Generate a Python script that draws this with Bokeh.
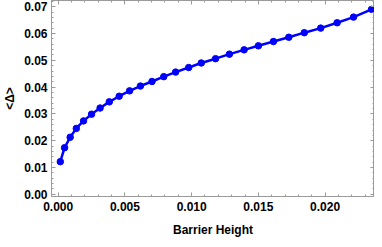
from bokeh.plotting import figure
from bokeh.models import LinearAxis, SingleIntervalTicker, NumeralTickFormatter, Range1d
from bokeh.embed import file_html
from bokeh.resources import INLINE

barrier_height = [0.00016, 0.00048, 0.00090, 0.00136, 0.00190, 0.00250, 0.00314, 0.00383,
                  0.00457, 0.00535, 0.00616, 0.00703, 0.00791, 0.00880, 0.00978, 0.01072,
                  0.01179, 0.01283, 0.01393, 0.01500, 0.01613, 0.01728, 0.01844, 0.01967,
                  0.02090, 0.02213, 0.02348]
mean_delta = [0.0122, 0.0174, 0.0213, 0.0246, 0.0274, 0.0299, 0.0322, 0.0345,
              0.0366, 0.0386, 0.0404, 0.0421, 0.0439, 0.0456, 0.0473, 0.0490,
              0.0506, 0.0523, 0.0539, 0.0554, 0.0570, 0.0586, 0.0603, 0.0620,
              0.0640, 0.0661, 0.0690]

x_label = "Barrier Height"
y_label = "<Δ>"

FONT = "Liberation Sans"
GRAY = "#9a9a9a"

p = figure(width=374, height=239, output_backend="svg", toolbar_location=None,
           x_range=Range1d(-0.0005, 0.0237), y_range=Range1d(-0.0008, 0.0723),
           x_axis_type=None, y_axis_type=None,
           min_border_left=42, min_border_right=0, min_border_top=0, min_border_bottom=0)
p.grid.visible = False
p.outline_line_color = GRAY
p.background_fill_color = "white"
p.border_fill_color = "white"


def style(ax, labels=True):
    ax.axis_line_color = GRAY
    ax.major_tick_line_color = GRAY
    ax.minor_tick_line_color = GRAY
    ax.major_tick_in = 4
    ax.major_tick_out = 0
    ax.minor_tick_in = 2
    ax.minor_tick_out = 0
    ax.major_label_text_font = FONT
    ax.major_label_text_font_style = "bold"
    ax.major_label_text_font_size = "12px"
    ax.major_label_text_color = "black"
    ax.axis_label_text_font = FONT
    ax.axis_label_text_font_style = "bold"
    ax.axis_label_text_font_size = "12px"
    ax.axis_label_text_color = "black"
    if not labels:
        ax.major_label_text_alpha = 0
        ax.major_label_text_font_size = "0px"
        ax.major_label_standoff = 0


xt = SingleIntervalTicker(interval=0.005, num_minor_ticks=5)
yt = SingleIntervalTicker(interval=0.01, num_minor_ticks=5)

xb = LinearAxis(ticker=xt, formatter=NumeralTickFormatter(format="0.000"), axis_label=x_label)
style(xb)
xb.major_label_standoff = 5
xb.axis_label_standoff = 9
p.add_layout(xb, "below")

yl = LinearAxis(ticker=yt, formatter=NumeralTickFormatter(format="0.00"), axis_label=y_label)
style(yl)
yl.major_label_standoff = 4
yl.axis_label_standoff = 4
p.add_layout(yl, "left")

xa = LinearAxis(ticker=SingleIntervalTicker(interval=0.005, num_minor_ticks=5))
style(xa, labels=False)
p.add_layout(xa, "above")

yr = LinearAxis(ticker=SingleIntervalTicker(interval=0.01, num_minor_ticks=5))
style(yr, labels=False)
p.add_layout(yr, "right")

p.line(barrier_height, mean_delta, line_color="#0000ff", line_width=2.5)
p.scatter(barrier_height, mean_delta, size=6.5, fill_color="#0000ff", line_color="#0000ff")

open("out.html", "w").write(file_html(p, INLINE))
